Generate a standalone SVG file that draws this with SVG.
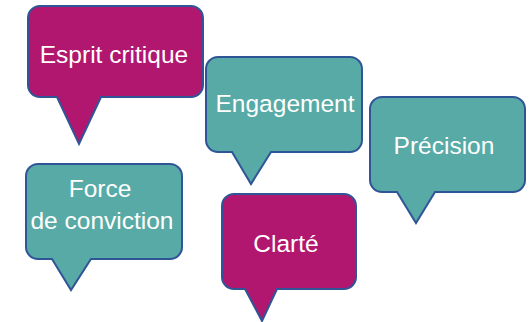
<svg xmlns="http://www.w3.org/2000/svg" width="530" height="322" viewBox="0 0 530 322">
<style>
.b{stroke:#2F5597;stroke-width:2;stroke-linejoin:miter}
.m{fill:#B1176F}
.t{fill:#57AAA5}
.l{font-family:"Liberation Sans",Arial,sans-serif;font-size:24.5px;fill:#FFFFFF;text-anchor:middle}
</style>
<rect width="530" height="322" fill="#FFFFFF"/>
<g id="esprit">
<path class="b m" d="M40,6 H191 A12,12 0 0 1 203,18 V85 A12,12 0 0 1 191,97 H101 L79,144 L57,97 H40 A12,12 0 0 1 28,85 V18 A12,12 0 0 1 40,6 Z"/>
<text class="l" x="114" y="63">Esprit critique</text>
</g>
<g id="engagement">
<path class="b t" d="M218,57 H350 A12,12 0 0 1 362,69 V140 A12,12 0 0 1 350,152 H271 L251,184 L232,152 H218 A12,12 0 0 1 206,140 V69 A12,12 0 0 1 218,57 Z"/>
<text class="l" x="285" y="112">Engagement</text>
</g>
<g id="precision">
<path class="b t" d="M382,97 H513 A12,12 0 0 1 525,109 V180 A12,12 0 0 1 513,192 H435 L416,223 L397,192 H382 A12,12 0 0 1 370,180 V109 A12,12 0 0 1 382,97 Z"/>
<text class="l" x="444" y="154">Précision</text>
</g>
<g id="force">
<path class="b t" d="M38,164 H170 A12,12 0 0 1 182,176 V247 A12,12 0 0 1 170,259 H91 L71,290 L52,259 H38 A12,12 0 0 1 26,247 V176 A12,12 0 0 1 38,164 Z"/>
<text class="l" x="100" y="197">Force</text>
<text class="l" x="102" y="229">de conviction</text>
</g>
<g id="clarte">
<path class="b m" d="M234,194 H344 A12,12 0 0 1 356,206 V277 A12,12 0 0 1 344,289 H277 L262,321 L245,289 H234 A12,12 0 0 1 222,277 V206 A12,12 0 0 1 234,194 Z"/>
<text class="l" x="286" y="252">Clarté</text>
</g>
<g id="connectors"></g>
</svg>
